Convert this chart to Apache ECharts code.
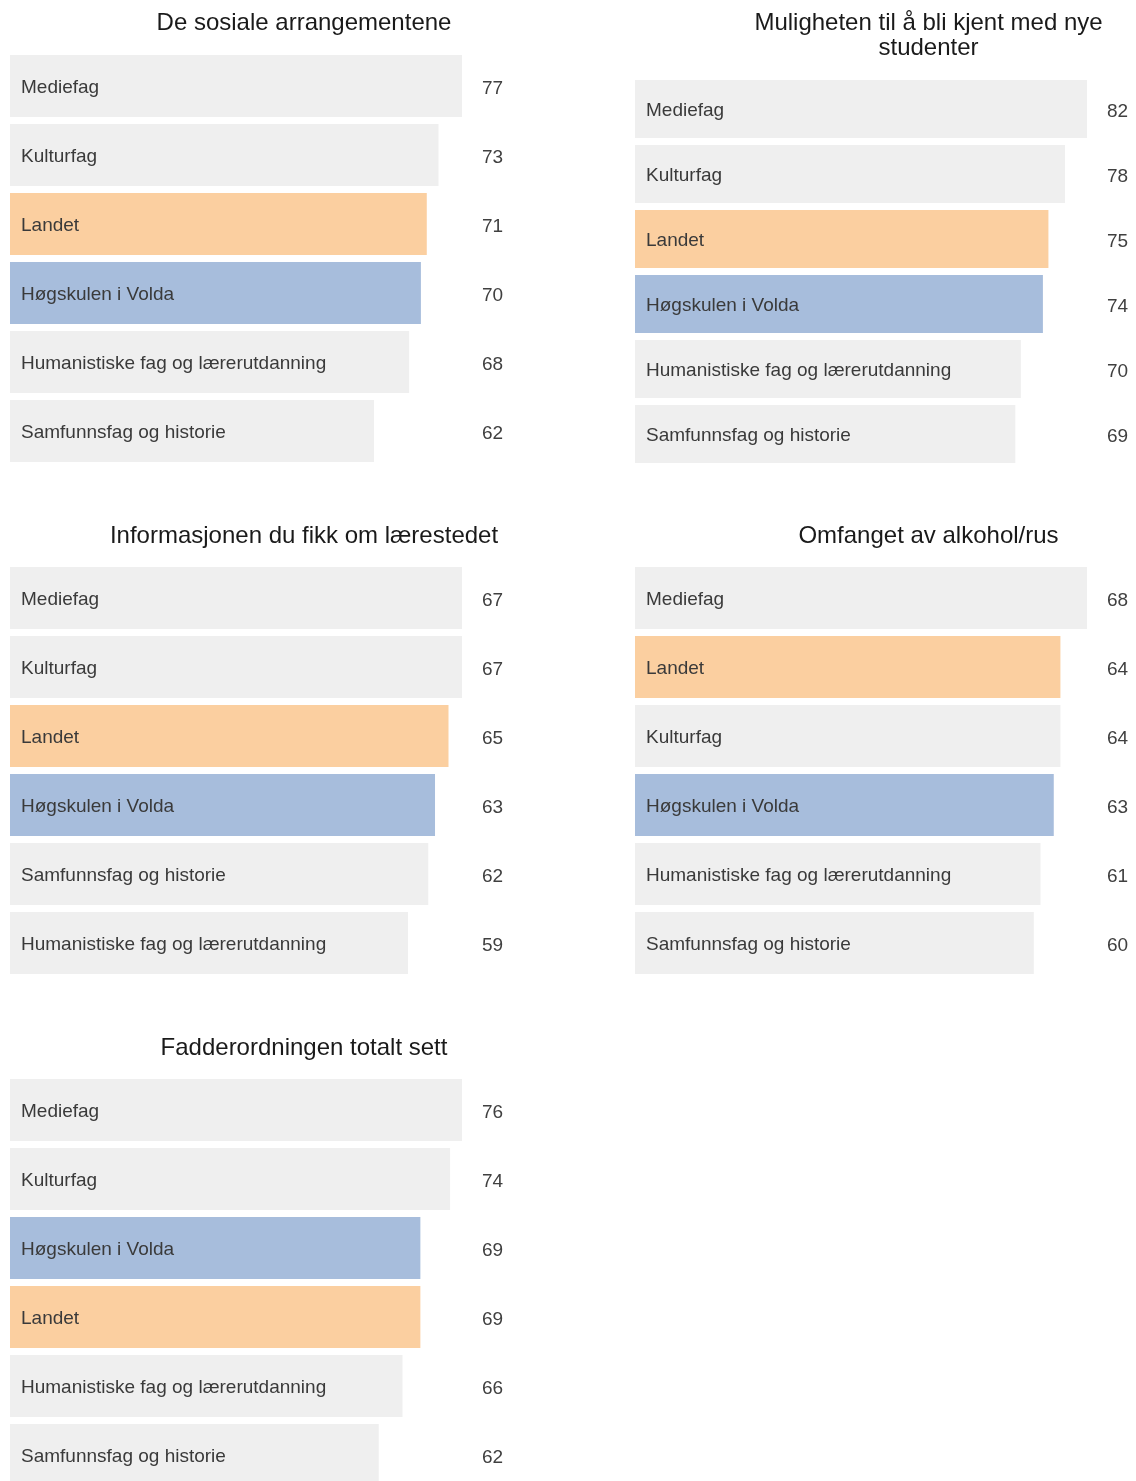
<!DOCTYPE html>
<html>
<head>
<meta charset="utf-8">
<script src="https://cdn.jsdelivr.net/npm/echarts@6/dist/echarts.min.js"></script>
<style>
html,body{margin:0;padding:0;background:#fff;overflow:hidden;}
#chart{width:1136px;height:1500px;}
</style>
</head>
<body>
<div id="chart"></div>
<script>
// ---- Data ----
const titles = [
  "De sosiale arrangementene",
  "Muligheten til å bli kjent med nye\nstudenter",
  "Informasjonen du fikk om lærestedet",
  "Omfanget av alkohol/rus",
  "Fadderordningen totalt sett"
];
const cats1 = ["Mediefag","Kulturfag","Landet","Høgskulen i Volda","Humanistiske fag og lærerutdanning","Samfunnsfag og historie"];
const vals1 = [77,73,71,70,68,62];
const cats2 = ["Mediefag","Kulturfag","Landet","Høgskulen i Volda","Humanistiske fag og lærerutdanning","Samfunnsfag og historie"];
const vals2 = [82,78,75,74,70,69];
const cats3 = ["Mediefag","Kulturfag","Landet","Høgskulen i Volda","Samfunnsfag og historie","Humanistiske fag og lærerutdanning"];
const vals3 = [67,67,65,63,62,59];
const cats4 = ["Mediefag","Landet","Kulturfag","Høgskulen i Volda","Humanistiske fag og lærerutdanning","Samfunnsfag og historie"];
const vals4 = [68,64,64,63,61,60];
const cats5 = ["Mediefag","Kulturfag","Høgskulen i Volda","Landet","Humanistiske fag og lærerutdanning","Samfunnsfag og historie"];
const vals5 = [76,74,69,69,66,62];

const panels = [
  {cats: cats1, vals: vals1},
  {cats: cats2, vals: vals2},
  {cats: cats3, vals: vals3},
  {cats: cats4, vals: vals4},
  {cats: cats5, vals: vals5}
];

// ---- Layout ----
const layout = [
  {left: 10,  top: 51.5,  height: 414, gap: '10%',   tx: 304, ty: 10.5},
  {left: 635, top: 76.5,  height: 390, gap: '10.8%', tx: 928.5, ty: 10.5},
  {left: 10,  top: 563.5, height: 414, gap: '10%',   tx: 304, ty: 523.5},
  {left: 635, top: 563.5, height: 414, gap: '10%',   tx: 928.5, ty: 523.5},
  {left: 10,  top: 1075.5,height: 414, gap: '10%',   tx: 304, ty: 1035.5}
];
const W = 452;
const FONT = '"Liberation Sans", Arial, sans-serif';
const colorFor = name => name === 'Landet' ? '#fbcfa0' : (name === 'Høgskulen i Volda' ? '#a7bddc' : '#efefef');

const option = {
  animation: false,
  backgroundColor: '#ffffff',
  title: [], grid: [], xAxis: [], yAxis: [], series: []
};

panels.forEach((p, i) => {
  const L = layout[i];
  option.title.push({
    text: titles[i], left: L.tx, top: L.ty, textAlign: 'center', padding: 0,
    textStyle: {fontFamily: FONT, fontSize: 24, fontWeight: 'normal', color: '#1a1a1a', lineHeight: 25}
  });
  option.grid.push({left: L.left, top: L.top, width: W, height: L.height, containLabel: false});
  option.xAxis.push({
    type: 'value', gridIndex: i, min: 0, max: Math.max(...p.vals),
    show: false, splitLine: {show: false}
  });
  option.yAxis.push({
    type: 'category', gridIndex: i, data: p.cats, inverse: true,
    axisLine: {show: false}, axisTick: {show: false}, axisLabel: {show: false}
  });
  option.yAxis.push({
    type: 'category', gridIndex: i, position: 'right', data: p.vals.map(String), inverse: true,
    axisLine: {show: false}, axisTick: {show: false},
    axisLabel: {show: true, margin: 20, align: 'left',
                formatter: v => '{v|' + v + '}',
                rich: {v: {padding: [6, 0, 0, 0], fontFamily: FONT, fontSize: 19, color: '#404040'}}}
  });
  option.series.push({
    type: 'bar', xAxisIndex: i, yAxisIndex: i * 2, barCategoryGap: L.gap,
    data: p.vals.map((v, k) => ({value: v, name: p.cats[k], itemStyle: {color: colorFor(p.cats[k])}})),
    label: {show: true, position: 'insideLeft', distance: 11, offset: [0, 2], formatter: '{b}',
            fontFamily: FONT, fontSize: 19, color: '#3a3a3a'},
    emphasis: {disabled: true}
  });
});

const chart = echarts.init(document.getElementById('chart'), null, {renderer: 'canvas'});
chart.setOption(option);
</script>
</body>
</html>
